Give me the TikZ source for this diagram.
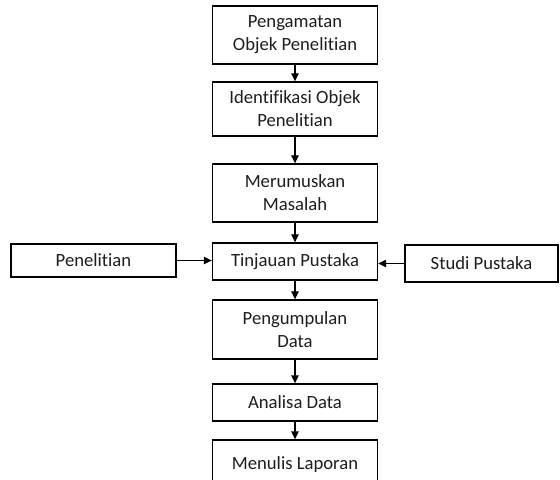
\documentclass[tikz,border=0pt]{standalone}
\usepackage{fontspec}
\setmainfont{Carlito}[Ligatures={NoCommon}]
\usepackage{xcolor}
\usepackage{tikz}
\usetikzlibrary{arrows.meta}
\definecolor{txtgray}{RGB}{30,30,30}

\begin{document}
\begin{tikzpicture}[
      x=0.75pt,
      y=-0.75pt,
      stepbox/.style={
        draw,
        line width=1pt,
        fill=white,
        align=center,
        inner sep=2pt,
        minimum width=123.75pt,
        text=txtgray,
        font=\fontsize{14}{17.2}\selectfont
      },
      tallbox/.style={stepbox, minimum height=43.5pt},
      flatbox/.style={stepbox, minimum height=27.75pt},
      flow/.style={-{Triangle[length=6pt,width=5.5pt]}, line width=0.9pt}
    ]
    \clip (0,0) rectangle (560,479);

    \node[tallbox] (amati) at (295,35) {Pengamatan\\Objek Penelitian};
    \node[tallbox, minimum height=40.5pt] (ident) at (295,109) {Identifikasi Objek\\Penelitian};
    \node[tallbox] (rumus) at (295,193) {Merumuskan\\Masalah};
    \node[flatbox] (tinjau) at (295,261.5) {Tinjauan Pustaka};
    \node[flatbox, minimum height=24.75pt] (teliti) at (93.5,260.5) {Penelitian};
    \node[flatbox, minimum width=114.75pt] (studi) at (481.5,263.5) {Studi Pustaka};
    \node[tallbox, minimum height=44.25pt] (kumpul) at (295,329.5) {Pengumpulan\\Data};
    \node[flatbox] (analisa) at (295,402.5) {Analisa Data};
    \node[stepbox, minimum height=37.5pt] (laporan) at (295,465) {Menulis Laporan};

    \draw[flow] (amati.south) -- (ident.north);
    \draw[flow] (ident.south) -- (rumus.north);
    \draw[flow] (rumus.south) -- (tinjau.north);
    \draw[flow] (teliti.east) -- (tinjau.west |- teliti.east);
    \draw[flow] (studi.west) -- (tinjau.east |- studi.west);
    \draw[flow] (tinjau.south) -- (kumpul.north);
    \draw[flow] (kumpul.south) -- (analisa.north);
    \draw[flow] (analisa.south) -- (laporan.north);
  \end{tikzpicture}
\end{document}
